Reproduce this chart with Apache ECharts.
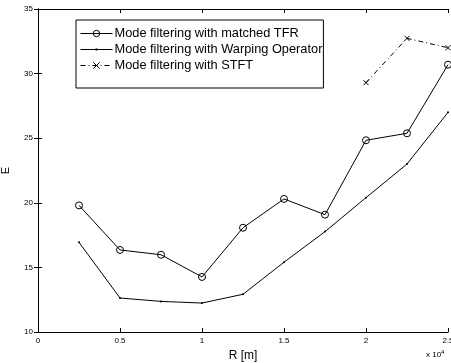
<!DOCTYPE html>
<html>
<head>
<meta charset="utf-8">
<script src="https://cdn.jsdelivr.net/npm/echarts@6/dist/echarts.min.js"></script>
<style>
html, body { margin: 0; padding: 0; background: #fff; }
#main { width: 451px; height: 363px; }
</style>
</head>
<body>
<div id="main"></div>
<script>
// range in metres
var rValues = [2500, 5000, 7500, 10000, 12500, 15000, 17500, 20000, 22500, 25000];
var matchedTFR = [19.8, 16.35, 15.98, 14.26, 18.07, 20.3, 19.08, 24.84, 25.38, 30.69];
var warpingOp = [16.94, 12.63, 12.37, 12.24, 12.92, 15.4, 17.77, 20.4, 23.0, 27.0];
var stftR = [20000, 22500, 25000];
var stftVals = [29.3, 32.73, 32.0];
var seriesNames = ['Mode filtering with matched TFR', 'Mode filtering with Warping Operator', 'Mode filtering with STFT'];

function pairs(xs, ys) {
    var res = [];
    for (var i = 0; i < xs.length; i++) {
        res.push([xs[i], ys[i]]);
    }
    return res;
}

var font = 'Liberation Sans, Arial, sans-serif';
var chart = echarts.init(document.getElementById('main'));

// legend icon for the warping series: thin line with a small dot in the middle
var dotLineIcon = 'path://M0,0L0,8M0,3.5L32,3.5L32,4.5L0,4.5ZM15,3L17,3L17,5L15,5Z';

var option = {
    animation: false,
    textStyle: { fontFamily: font },
    grid: { left: 38, right: 3, top: 9, bottom: 31, outerBoundsMode: 'none', containLabel: false },
    legend: {
        left: 76, top: 20,
        orient: 'vertical',
        itemGap: 3,
        itemWidth: 32,
        itemHeight: 8,
        padding: [7, 1, 16, 4],
        borderColor: '#000',
        borderWidth: 1,
        backgroundColor: '#fff',
        lineStyle: { width: 1 },
        itemStyle: { borderWidth: 1 },
        textStyle: { fontSize: 12.8, color: '#000', fontFamily: font, padding: [0, 0, 0, -3] },
        data: [
            seriesNames[0],
            { name: seriesNames[1], icon: dotLineIcon, itemStyle: { color: '#000', borderWidth: 0 } },
            seriesNames[2]
        ]
    },
    xAxis: [{
        type: 'value', min: 0, max: 25000, interval: 5000,
        name: 'R [m]', nameLocation: 'middle', nameGap: 15,
        nameTextStyle: { fontSize: 12, color: '#000' },
        axisLine: { lineStyle: { color: '#000', width: 1 } },
        axisTick: { inside: true, length: 4, lineStyle: { color: '#000' } },
        axisLabel: { fontSize: 8, color: '#000', margin: 5, formatter: function (v) { return String(v / 10000); } },
        splitLine: { show: false }
    }, {
        type: 'value', min: 0, max: 25000, interval: 5000, position: 'top',
        axisLine: { lineStyle: { color: '#000' } },
        axisTick: { inside: true, length: 4, lineStyle: { color: '#000' } },
        axisLabel: { show: false },
        splitLine: { show: false }
    }],
    yAxis: [{
        type: 'value', min: 10, max: 35, interval: 5,
        name: 'E', nameLocation: 'middle', nameGap: 27,
        nameTextStyle: { fontSize: 11, color: '#000' },
        axisLine: { show: true, lineStyle: { color: '#000' } },
        axisTick: { show: true, inside: true, length: 4, lineStyle: { color: '#000' } },
        axisLabel: { fontSize: 8, color: '#000', margin: 5 },
        splitLine: { show: false }
    }, {
        type: 'value', min: 10, max: 35, interval: 5, position: 'right',
        axisLine: { show: true, lineStyle: { color: '#000' } },
        axisTick: { show: true, inside: true, length: 4, lineStyle: { color: '#000' } },
        axisLabel: { show: false },
        splitLine: { show: false }
    }],
    series: [{
        name: seriesNames[0],
        type: 'line',
        data: pairs(rValues, matchedTFR),
        symbol: 'circle',
        symbolSize: 7,
        lineStyle: { color: '#000', width: 1 },
        itemStyle: { color: 'transparent', borderColor: '#000', borderWidth: 1 }
    }, {
        name: seriesNames[1],
        type: 'line',
        data: pairs(rValues, warpingOp),
        symbol: 'circle',
        symbolSize: 2,
        lineStyle: { color: '#000', width: 1 },
        itemStyle: { color: '#000' }
    }, {
        name: seriesNames[2],
        type: 'line',
        data: pairs(stftR, stftVals),
        symbol: 'path://M0,0L10,10M10,0L0,10',
        symbolSize: 5,
        lineStyle: { color: '#000', width: 1, type: [5, 3, 1, 3] },
        itemStyle: { color: 'none', borderColor: '#000', borderWidth: 1 }
    }],
    graphic: [{
        type: 'text',
        left: 426, top: 349,
        style: {
            text: 'x 10{s|4}',
            font: '8px ' + font,
            fill: '#000',
            rich: { s: { fontSize: 6, verticalAlign: 'top', padding: [0, 0, 5, 0] } }
        }
    }]
};

chart.setOption(option);
</script>
</body>
</html>
